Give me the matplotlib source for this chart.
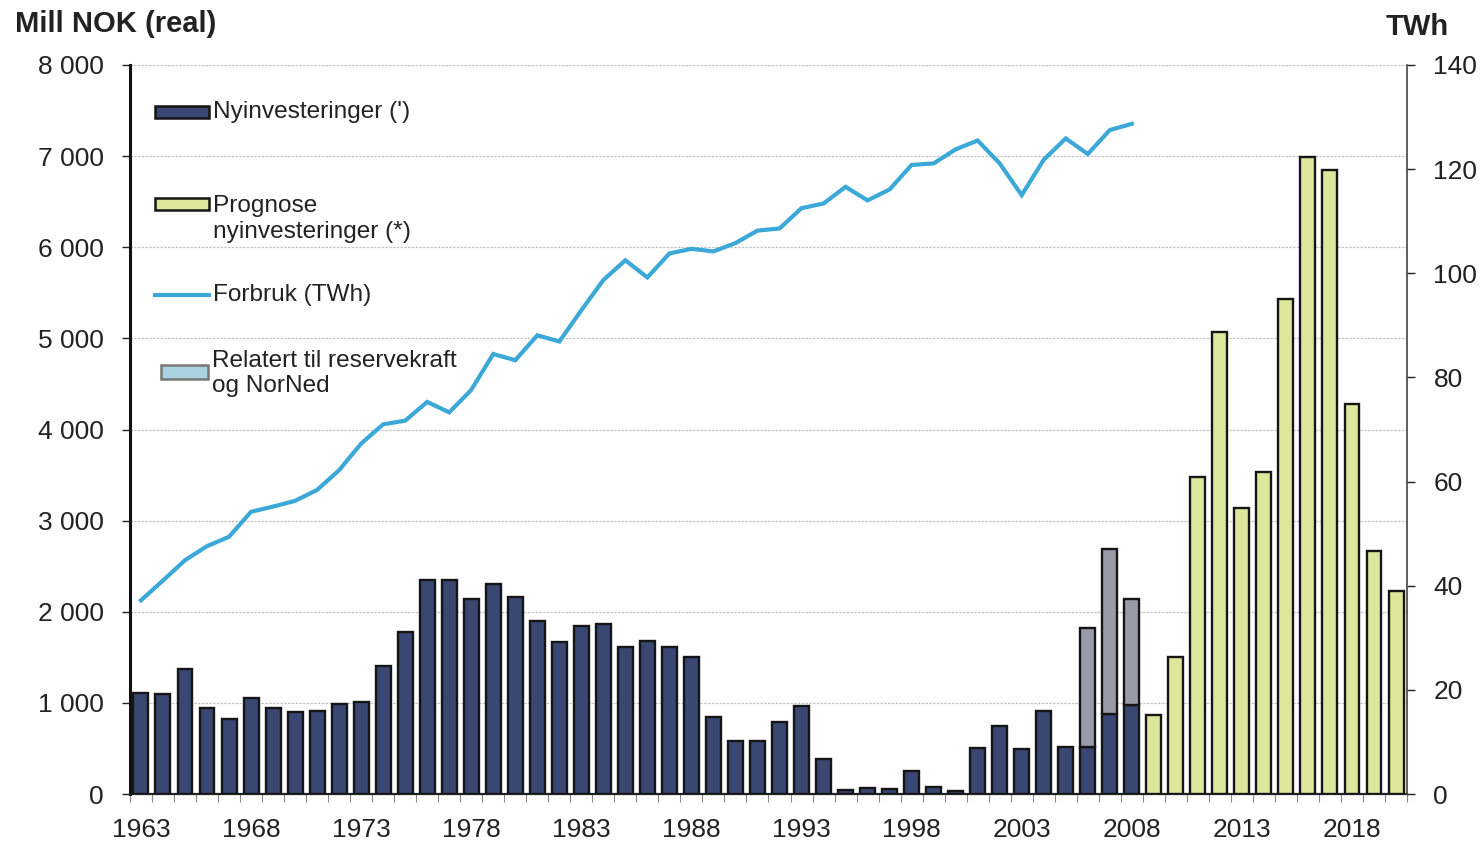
import matplotlib
matplotlib.use("Agg")
import matplotlib.pyplot as plt
from matplotlib.patches import Rectangle
from matplotlib.lines import Line2D
from matplotlib.ticker import FuncFormatter, MultipleLocator
import numpy as np

plt.rcParams['font.family'] = ['Liberation Sans', 'DejaVu Sans']

# data
aar_hist = np.arange(1963, 2009)
nyinv = [1110, 1100, 1370, 940, 820, 1050, 940, 895, 910, 990,
         1010, 1400, 1780, 2345, 2345, 2140, 2310, 2160, 1900, 1670,
         1845, 1865, 1615, 1675, 1610, 1505, 840, 580, 580, 790,
         965, 385, 45, 70, 60, 250, 80, 35, 505, 750,
         490, 910, 515, 520, 875, 975]
aar_res = [2006, 2007, 2008]
reserve = [1302, 1814, 1165]
aar_prog = np.arange(2009, 2021)
prognose = [865, 1505, 3475, 5065, 3140, 3530, 5435, 6985, 6850, 4285, 2665, 2225]
forbruk = [37.2, 41.0, 44.9, 47.6, 49.4, 54.2, 55.2, 56.3, 58.4, 62.2,
           67.3, 71.0, 71.7, 75.3, 73.3, 77.6, 84.5, 83.3, 88.1, 86.9,
           92.9, 98.7, 102.5, 99.2, 103.8, 104.7, 104.2, 105.8, 108.2, 108.6,
           112.5, 113.4, 116.6, 114.0, 116.1, 120.8, 121.1, 123.8, 125.5, 121.1,
           115.0, 121.8, 125.9, 122.9, 127.5, 128.7]
tick_years = [1963, 1968, 1973, 1978, 1983, 1988, 1993, 1998, 2003, 2008, 2013, 2018]

navy = '#3a4772'
green = '#dde79b'
grey = '#9a9ba9'
lightblue = '#a9d3e0'
lineblue = '#3ba8d8'
txt = '#222222'
fs_tick = 19.0
fs_leg = 17.6

fig = plt.figure(figsize=(14.8, 8.44), dpi=100)
ax = fig.add_axes([0.0878, 0.0592, 0.8629, 0.8638])

w = 0.68
ax.bar(aar_hist, nyinv, width=w, color=navy, edgecolor='#151515', linewidth=1.7, zorder=3)
res_bottom = [nyinv[list(aar_hist).index(y)] for y in aar_res]
ax.bar(aar_res, reserve, bottom=res_bottom, width=w, color=grey, edgecolor='#151515', linewidth=1.7, zorder=3)
ax.bar(aar_prog, prognose, width=w, color=green, edgecolor='#151515', linewidth=1.7, zorder=3)

ax.set_xlim(1962.5, 2020.5)
ax.set_ylim(0, 8000)
ax.yaxis.set_major_locator(MultipleLocator(1000))
ax.yaxis.set_major_formatter(FuncFormatter(lambda v, p: f"{int(v):,}".replace(",", " ")))
ax.grid(axis='y', color='#c4c4c4', linestyle=(0, (2, 1)), linewidth=0.9, zorder=0)
ax.set_axisbelow(True)

ax.set_xticks(tick_years)
ax.set_xticks(np.arange(1962.5, 2021, 1), minor=True)
ax.tick_params(axis='x', which='major', length=0, pad=17, labelsize=fs_tick, colors=txt)
ax.tick_params(axis='x', which='minor', length=6, width=0.8, color='#888888', direction='out')
ax.tick_params(axis='y', length=6, width=1, pad=13, labelsize=fs_tick, colors=txt)

for s in ['top', 'right']:
    ax.spines[s].set_visible(False)
ax.spines['left'].set_linewidth(2.2)
ax.spines['left'].set_color('#111111')
ax.spines['bottom'].set_linewidth(1.6)
ax.spines['bottom'].set_color('#222222')

ax2 = ax.twinx()
ax2.plot(aar_hist, forbruk, color=lineblue, linewidth=3.0, solid_joinstyle='miter', zorder=4)
ax2.set_ylim(0, 140)
ax2.yaxis.set_major_locator(MultipleLocator(20))
ax2.tick_params(axis='y', length=6, width=1, pad=13, labelsize=fs_tick, colors=txt)
for s in ['top', 'left', 'bottom']:
    ax2.spines[s].set_visible(False)
ax2.spines['right'].set_color('#444444')
ax2.spines['right'].set_linewidth(1.2)

# legend drawn by hand
tr = ax.transAxes
ax.add_patch(Rectangle((0.0196, 0.9273), 0.0423, 0.0165, transform=tr, facecolor=navy,
                       edgecolor='#151515', linewidth=1.8, zorder=5))
ax.text(0.065, 0.9355, "Nyinvesteringer (')", transform=tr, fontsize=fs_leg, va='center', color=txt)
ax.add_patch(Rectangle((0.0196, 0.8011), 0.0423, 0.0165, transform=tr, facecolor=green,
                       edgecolor='#151515', linewidth=1.8, zorder=5))
ax.text(0.065, 0.789, "Prognose\nnyinvesteringer (*)", transform=tr, fontsize=fs_leg, va='center',
        linespacing=1.22, color=txt)
ax.add_line(Line2D([0.0196, 0.0619], [0.6845, 0.6845], transform=tr, color=lineblue, linewidth=3.0))
ax.text(0.065, 0.6845, "Forbruk (TWh)", transform=tr, fontsize=fs_leg, va='center', color=txt)
ax.add_patch(Rectangle((0.0243, 0.5693), 0.0368, 0.0192, transform=tr, facecolor=lightblue,
                       edgecolor='#777777', linewidth=1.8, zorder=5))
ax.text(0.0642, 0.5768, "Relatert til reservekraft\nog NorNed", transform=tr, fontsize=fs_leg, va='center',
        linespacing=1.22, color=txt)

fig.text(0.010, 0.972, "Mill NOK (real)", fontsize=21, fontweight='bold', va='center', color=txt)
fig.text(0.936, 0.968, "TWh", fontsize=21, fontweight='bold', va='center', color=txt)

fig.savefig("out.png", dpi=100)
